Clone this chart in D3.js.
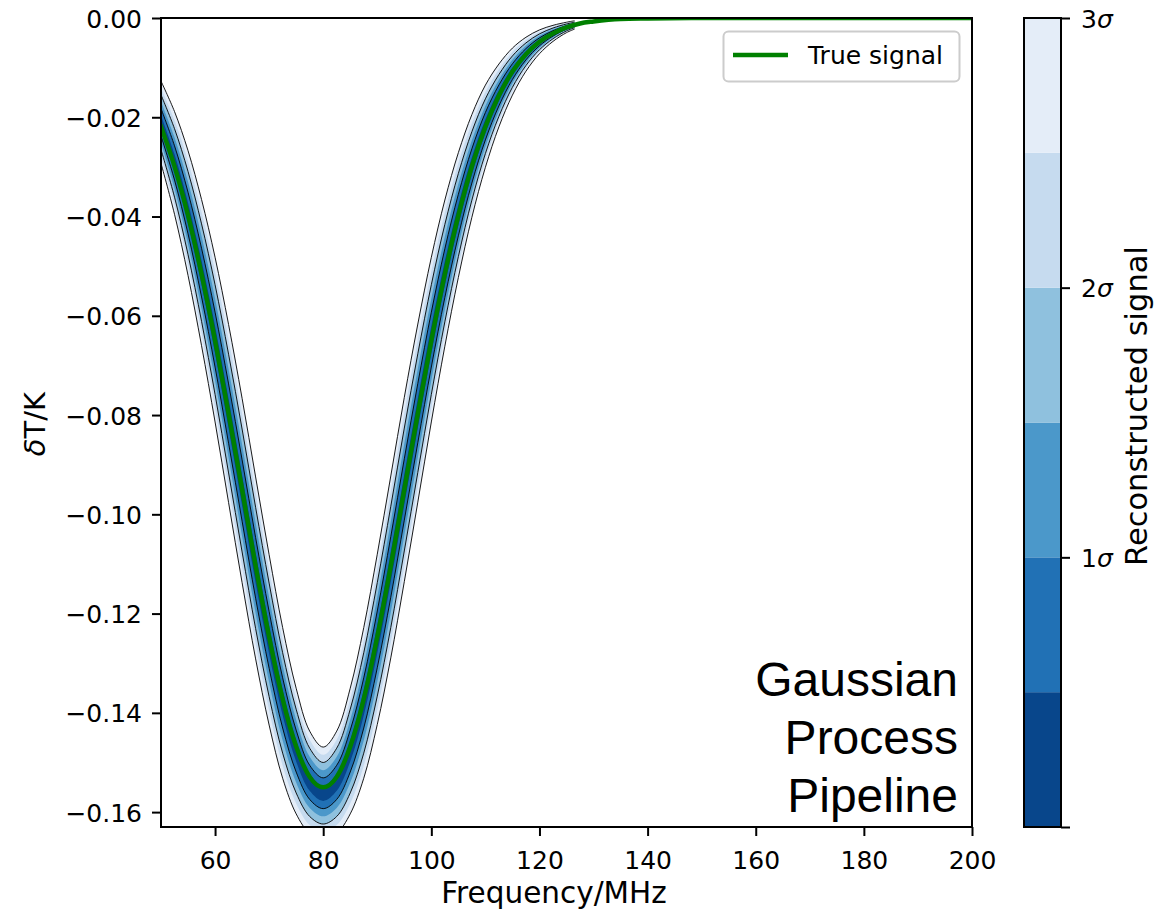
<!DOCTYPE html>
<html>
<head>
<meta charset="utf-8">
<script src="https://cdn.jsdelivr.net/npm/d3@7"></script>
<style>
  html, body { margin: 0; padding: 0; background: #ffffff; }
  svg { display: block; }
</style>
</head>
<body>
<svg id="chart" width="1174" height="916"></svg>
<script>
// ---------------- data ----------------
const trueFreq = [50, 52.5, 55, 57.5, 60, 62.5, 65, 67.5, 70, 72.5, 75, 77.5, 80,
  82.5, 85, 87.5, 90, 92.5, 95, 97.5, 100, 102.5, 105, 107.5, 110, 112.5, 115,
  117.5, 120, 122.5, 125, 127.5, 130, 135, 140, 150, 160, 170, 180, 190, 200];
const trueSignal = [-0.0219, -0.0299, -0.0398, -0.0516, -0.0650, -0.0797, -0.0950,
  -0.1104, -0.1247, -0.1372, -0.1468, -0.1529, -0.1550, -0.1529, -0.1468, -0.1372,
  -0.1247, -0.1104, -0.0950, -0.0797, -0.0650, -0.0516, -0.0398, -0.0299, -0.0219,
  -0.0156, -0.0108, -0.0073, -0.0048, -0.0031, -0.0019, -0.0011, -0.0007, -0.0002,
  -0.0001, 0, 0, 0, 0, 0, 0];

const bandFreq = [50, 52.5, 55, 57.5, 60, 62.5, 65, 67.5, 70, 72.5, 75, 77.5, 80,
  82.5, 85, 87.5, 90, 92.5, 95, 97.5, 100, 102.5, 105, 107.5, 110, 112.5, 115,
  117.5, 120, 122.5, 125, 126.5];
const bandMean = [-0.0210, -0.0292, -0.0393, -0.0513, -0.0648, -0.0797, -0.0952,
  -0.1108, -0.1253, -0.1380, -0.1477, -0.1540, -0.1562, -0.1540, -0.1477, -0.1380,
  -0.1252, -0.1106, -0.0950, -0.0796, -0.0648, -0.0514, -0.0397, -0.0298, -0.0218,
  -0.0156, -0.0108, -0.0073, -0.0048, -0.0031, -0.0019, -0.0014];
const bandSigma = [0.00276, 0.00345, 0.00419, 0.00491, 0.00553, 0.00598, 0.00619,
  0.00611, 0.00572, 0.00506, 0.00422, 0.00344, 0.00310, 0.00344, 0.00422, 0.00506,
  0.00572, 0.00611, 0.00619, 0.00598, 0.00553, 0.00491, 0.00419, 0.00345, 0.00276,
  0.00211, 0.00158, 0.00114, 0.00080, 0.00054, 0.00035, 0.00028];

const sigmaLevels = [0, 0.5, 1, 1.5, 2, 2.5, 3];
const lineLevels = [1, 2, 3];
const colorbarTicks = [0, 1, 2, 3];
const colorbarTickLabels = ["", "1", "2", "3"];
const xTicks = [60, 80, 100, 120, 140, 160, 180, 200];
const yTicks = [0, -0.02, -0.04, -0.06, -0.08, -0.10, -0.12, -0.14, -0.16];

// ---------------- layout ----------------
const svg = d3.select("#chart");
const plot = { left: 161, right: 972, top: 18, bottom: 827 };
const cbar = { left: 1024, right: 1061, top: 18, bottom: 827 };
const bandColors = ["#08468b", "#2171b5", "#4b98ca", "#8fc1de", "#c6dbef", "#e4edf8"];

const x = d3.scaleLinear().domain([50, 200]).range([plot.left, plot.right]);
const y = d3.scaleLinear().domain([-0.163, 0]).range([plot.bottom, plot.top]);

svg.append("defs").append("clipPath").attr("id", "clip")
  .append("rect")
  .attr("x", plot.left).attr("y", plot.top)
  .attr("width", plot.right - plot.left).attr("height", plot.bottom - plot.top);

const g = svg.append("g").attr("clip-path", "url(#clip)");

const band = bandFreq.map((f, i) => ({ f, m: bandMean[i], s: bandSigma[i] }));

// filled bands, outermost first
for (let k = sigmaLevels.length - 1; k >= 1; k--) {
  const lv = sigmaLevels[k];
  const area = d3.area()
    .x(d => x(d.f))
    .y0(d => y(d.m - lv * d.s))
    .y1(d => y(d.m + lv * d.s))
    .curve(d3.curveCatmullRom);
  g.append("path").datum(band)
    .attr("d", area)
    .attr("fill", bandColors[k - 1])
    .attr("stroke", "none");
}

// contour lines
lineLevels.forEach(lv => {
  [1, -1].forEach(sgn => {
    const ln = d3.line()
      .x(d => x(d.f))
      .y(d => y(d.m + sgn * lv * d.s))
      .curve(d3.curveCatmullRom);
    g.append("path").datum(band)
      .attr("d", ln)
      .attr("fill", "none")
      .attr("stroke", "#000")
      .attr("stroke-width", 0.9);
  });
});

// true signal
const trueData = trueFreq.map((f, i) => ({ f, v: trueSignal[i] }));
g.append("path").datum(trueData)
  .attr("d", d3.line().x(d => x(d.f)).y(d => y(d.v)).curve(d3.curveMonotoneX))
  .attr("fill", "none")
  .attr("stroke", "#008000")
  .attr("stroke-width", 4.5)
  .attr("stroke-linecap", "square");

// ---------------- axes ----------------
const tickFont = "'DejaVu Sans', sans-serif";

const xAxis = svg.append("g")
  .attr("transform", `translate(0,${plot.bottom})`)
  .call(d3.axisBottom(x).tickValues(xTicks).tickSize(9).tickPadding(9)
    .tickFormat(d3.format("d")));
const yAxis = svg.append("g")
  .attr("transform", `translate(${plot.left},0)`)
  .call(d3.axisLeft(y).tickValues(yTicks).tickSize(9).tickPadding(10)
    .tickFormat(d => d3.format(".2f")(d).replace("-", "\u2212")));

[xAxis, yAxis].forEach(a => {
  a.select(".domain").remove();
  a.selectAll(".tick line").attr("stroke", "#000").attr("stroke-width", 2);
  a.selectAll(".tick text").attr("fill", "#000")
    .style("font-family", tickFont).style("font-size", "25px");
});
xAxis.selectAll(".tick text").attr("dy", "0.95em");
yAxis.selectAll(".tick text").attr("dy", "0.36em");

// frame
svg.append("rect")
  .attr("x", plot.left).attr("y", plot.top)
  .attr("width", plot.right - plot.left).attr("height", plot.bottom - plot.top)
  .attr("fill", "none").attr("stroke", "#000").attr("stroke-width", 2);

// axis labels
svg.append("text")
  .attr("x", 554).attr("y", 903)
  .attr("text-anchor", "middle")
  .style("font-family", tickFont).style("font-size", "29.5px")
  .text("Frequency/MHz");

const yl = svg.append("text")
  .attr("transform", `translate(45,424) rotate(-90)`)
  .attr("text-anchor", "middle")
  .style("font-family", tickFont).style("font-size", "29px");
yl.append("tspan").style("font-style", "italic").text("\u03B4");
yl.append("tspan").text("T/K");

// annotation text
const ann = svg.append("text")
  .attr("text-anchor", "end")
  .style("font-family", "'Liberation Sans', Arial, sans-serif")
  .style("font-size", "48px")
  .attr("fill", "#000");
["Gaussian", "Process", "Pipeline"].forEach((t, i) => {
  ann.append("tspan").attr("x", 958).attr("y", 696 + i * 58).text(t);
});

// legend
const leg = svg.append("g");
leg.append("rect")
  .attr("x", 723.5).attr("y", 31.5).attr("width", 236).attr("height", 50)
  .attr("rx", 5).attr("ry", 5)
  .attr("fill", "#fff").attr("fill-opacity", 0.8)
  .attr("stroke", "#cccccc").attr("stroke-width", 2);
leg.append("line")
  .attr("x1", 733).attr("x2", 788).attr("y1", 55).attr("y2", 55)
  .attr("stroke", "#008000").attr("stroke-width", 4.5);
leg.append("text")
  .attr("x", 808).attr("y", 64)
  .style("font-family", tickFont).style("font-size", "25px")
  .text("True signal");

// ---------------- colorbar ----------------
const cy = d3.scaleLinear().domain([0, 3]).range([cbar.bottom, cbar.top]);
for (let k = 0; k < sigmaLevels.length - 1; k++) {
  svg.append("rect")
    .attr("x", cbar.left).attr("width", cbar.right - cbar.left)
    .attr("y", cy(sigmaLevels[k + 1]))
    .attr("height", cy(sigmaLevels[k]) - cy(sigmaLevels[k + 1]))
    .attr("fill", bandColors[k]);
}
svg.append("rect")
  .attr("x", cbar.left).attr("y", cbar.top)
  .attr("width", cbar.right - cbar.left).attr("height", cbar.bottom - cbar.top)
  .attr("fill", "none").attr("stroke", "#000").attr("stroke-width", 2);

const cAxis = svg.append("g")
  .attr("transform", `translate(${cbar.right},0)`)
  .call(d3.axisRight(cy).tickValues(colorbarTicks).tickSize(9).tickPadding(11)
    .tickFormat(() => ""));
cAxis.select(".domain").remove();
cAxis.selectAll(".tick line").attr("stroke", "#000").attr("stroke-width", 2);
cAxis.selectAll(".tick text").each(function(d, i) {
  const t = d3.select(this);
  const lab = colorbarTickLabels[colorbarTicks.indexOf(d)];
  if (!lab) return;
  t.attr("fill", "#000").attr("dy", "0.36em")
    .style("font-family", tickFont).style("font-size", "25px");
  t.append("tspan").text(lab);
  t.append("tspan").style("font-style", "italic").text("\u03C3");
});

svg.append("text")
  .attr("transform", `translate(1147,406) rotate(-90)`)
  .attr("text-anchor", "middle")
  .style("font-family", tickFont).style("font-size", "30.5px")
  .text("Reconstructed signal");
</script>
</body>
</html>
